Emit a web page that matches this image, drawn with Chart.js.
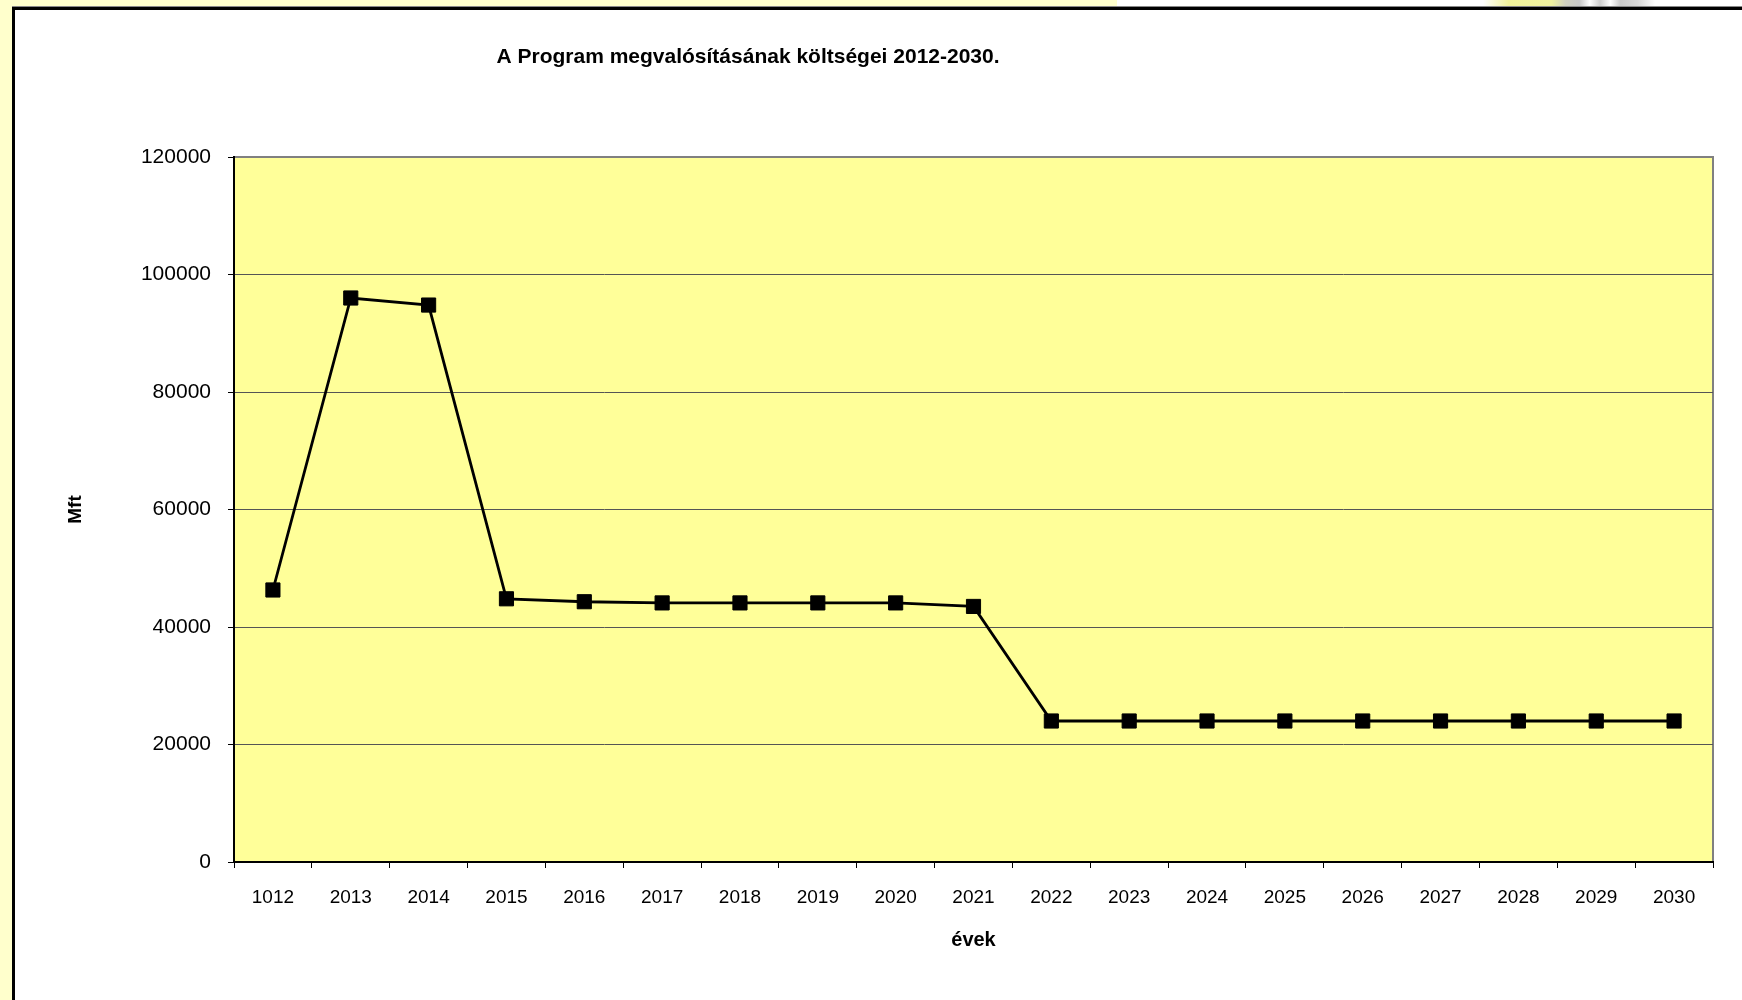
<!DOCTYPE html>
<html>
<head>
<meta charset="utf-8">
<script src="https://cdn.jsdelivr.net/npm/chart.js@4"></script>
<style>
  html, body { margin: 0; padding: 0; }
  body { width: 1742px; height: 1000px; background: #FFFFCC; position: relative; overflow: hidden; font-family: "Liberation Sans", Arial, sans-serif; }
  #topWhite { position: absolute; left: 1117px; top: 0; width: 625px; height: 8px; background: #fff; }
  #stripe { position: absolute; left: 1483px; top: 0; width: 172px; height: 8px;
    background: linear-gradient(90deg, rgba(240,245,150,0) 0%, #F2F39A 15%, #F0F2A0 40%, #D0D0C0 48%, #C8C8C8 56%, #fff 62%, #CFCFCF 68%, #fff 74%, #C8C8C8 80%, #D8D8D8 90%, rgba(255,255,255,0) 100%); }
  #frame { position: absolute; left: 12px; top: 7px; width: 1760px; height: 1010px; background: #fff; border-left: 3px solid #000; border-top: 3px solid #000; box-shadow: 0 -1px 0 #888; }
  #wrap { position: absolute; left: 0; top: 0; width: 1742px; height: 1000px; }
</style>
</head>
<body>
<div id="topWhite"></div>
<div id="stripe"></div>
<div id="frame"></div>
<div id="wrap"><canvas id="costChart" width="1742" height="1000"></canvas></div>
<script>
// Chart data
const chartTitle = 'A Program megvalósításának költségei 2012-2030.';
const yearLabels = ['1012', '2013', '2014', '2015', '2016', '2017', '2018', '2019', '2020', '2021',
                    '2022', '2023', '2024', '2025', '2026', '2027', '2028', '2029', '2030'];
const costValues = [46300, 96000, 94800, 44800, 44300, 44100, 44100, 44100, 44100, 43500,
                    24000, 24000, 24000, 24000, 24000, 24000, 24000, 24000, 24000];

// Plot area background + grey top/right border
const plotBg = {
    id: 'plotBg',
    beforeDraw(chart) {
        const { ctx, chartArea: a } = chart;
        ctx.save();
        ctx.fillStyle = '#FFFF99';
        ctx.fillRect(a.left, a.top, a.right - a.left, a.bottom - a.top);
        ctx.strokeStyle = '#808080';
        ctx.lineWidth = 2;
        ctx.beginPath();
        ctx.moveTo(a.left, a.top);
        ctx.lineTo(a.right, a.top);
        ctx.lineTo(a.right, a.bottom);
        ctx.stroke();
        ctx.restore();
    }
};

// Title drawn left of centre, like the original sheet
const sheetTitle = {
    id: 'sheetTitle',
    afterDraw(chart) {
        const ctx = chart.ctx;
        ctx.save();
        ctx.font = 'bold 21px "Liberation Sans", Arial, sans-serif';
        ctx.fillStyle = '#000';
        ctx.textAlign = 'center';
        ctx.textBaseline = 'middle';
        ctx.fillText(chartTitle, 748, 57);
        ctx.restore();
    }
};

Chart.defaults.font.family = '"Liberation Sans", Arial, sans-serif';
Chart.defaults.color = '#000';

new Chart(document.getElementById('costChart'), {
    type: 'line',
    data: {
        labels: yearLabels,
        datasets: [{
            label: 'Mft',
            data: costValues,
            borderColor: '#000',
            borderWidth: 2.8,
            backgroundColor: '#000',
            pointStyle: 'rect',
            pointRadius: 10,
            pointBorderWidth: 1,
            tension: 0,
            fill: false
        }]
    },
    options: {
        responsive: false,
        animation: false,
        layout: { padding: { left: 0, right: 29, top: 157, bottom: 0 } },
        plugins: {
            legend: { display: false },
            tooltip: { enabled: false }
        },
        scales: {
            x: {
                offset: true,
                grid: { display: true, offset: true, drawOnChartArea: false, drawTicks: true, tickLength: 6, color: '#000' },
                border: { color: '#000', width: 2 },
                ticks: { font: { size: 19 }, padding: 18, maxRotation: 0, autoSkip: false },
                title: { display: true, text: 'évek', font: { size: 20, weight: 'bold' }, padding: { bottom: 48 } },
                afterFit(scale) { scale.height = 138; }
            },
            y: {
                min: 0,
                max: 120000,
                ticks: { stepSize: 20000, font: { size: 21 }, padding: 17, callback: v => String(v) },
                grid: {
                    color: ctx => ctx.tick && ctx.tick.value === 120000 ? '#808080' : '#555',
                    lineWidth: 1,
                    tickLength: 6,
                    tickColor: '#000'
                },
                border: { color: '#000', width: 2 },
                title: { display: true, text: 'Mft', font: { size: 19, weight: 'bold' }, padding: { top: 64 } },
                afterFit(scale) { scale.width = 234; }
            }
        }
    },
    plugins: [plotBg, sheetTitle]
});
</script>
</body>
</html>
